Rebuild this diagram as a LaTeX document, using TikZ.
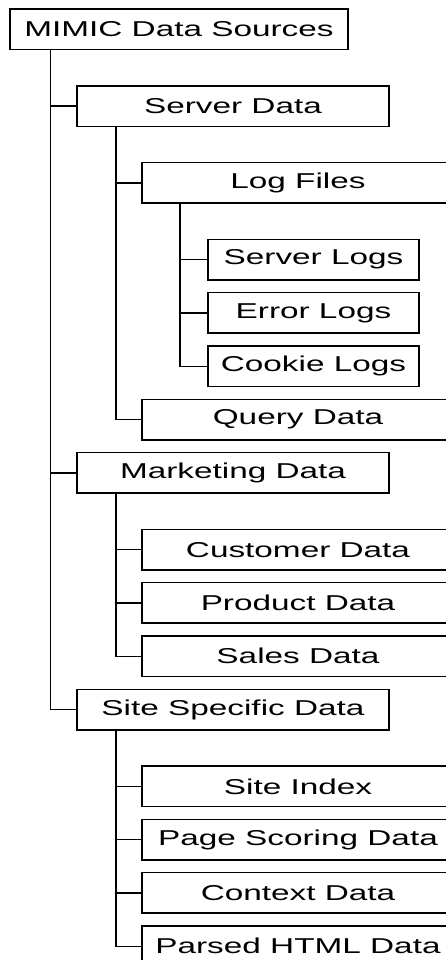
\documentclass[tikz,border=0pt]{standalone}
\usepackage{fontspec}
\setmainfont[FakeStretch=1.55]{Liberation Sans}
\usepackage{tikz}
\usetikzlibrary{positioning,calc}

\begin{document}
\begin{tikzpicture}[
    x=1pt, y=1pt,
    node distance=12.8pt,
    box/.style={rectangle, draw, line width=1.5pt, inner sep=0pt, outer sep=0pt, minimum height=40.5pt, font=\fontsize{21.5pt}{24pt}\selectfont},
    topbox/.style={box, minimum width=338pt},
    groupbox/.style={box, minimum width=312pt},
    leafbox/.style={box, minimum width=211pt},
    link/.style={line width=1.5pt}
]
\clip (0,0) rectangle (446,-960);

% Root
\node[topbox, anchor=north west] (root) at (10,-9) {MIMIC Data Sources};

% Server data branch
\node[groupbox, below=36.3pt of root.south west, anchor=north west, xshift=67pt] (server) {Server Data};
\node[groupbox, below=36.3pt of server.south west, anchor=north west, xshift=65pt] (logfiles) {Log Files};
\node[leafbox, below=36.3pt of logfiles.south west, anchor=north west, xshift=66pt] (srvlogs) {Server Logs};
\node[leafbox, below=of srvlogs] (errlogs) {Error Logs};
\node[leafbox, below=of errlogs] (cookielogs) {Cookie Logs};
\node[groupbox, below=of cookielogs.south west, anchor=north west, xshift=-66pt] (query) {Query Data};

% Marketing data branch
\node[groupbox, below=of query.south west, anchor=north west, xshift=-65pt] (marketing) {Marketing Data};
\node[groupbox, below=36.3pt of marketing.south west, anchor=north west, xshift=65pt] (customer) {Customer Data};
\node[groupbox, below=of customer] (product) {Product Data};
\node[groupbox, below=of product] (sales) {Sales Data};

% Site specific branch
\node[groupbox, below=of sales.south west, anchor=north west, xshift=-65pt] (site) {Site Specific Data};
\node[groupbox, below=36.3pt of site.south west, anchor=north west, xshift=65pt] (siteidx) {Site Index};
\node[groupbox, below=of siteidx] (scoring) {Page Scoring Data};
\node[groupbox, below=of scoring] (context) {Context Data};
\node[groupbox, below=of context] (parsed) {Parsed HTML Data};

% Tree lines
\draw[link] ($(root.south west)+(40.7,0)$) coordinate (t0)
    |- (server.west) (t0) |- (marketing.west) (t0) |- (site.west);
\draw[link] ($(server.south west)+(39,0)$) coordinate (t1)
    |- (logfiles.west) (t1) |- (query.west);
\draw[link] ($(logfiles.south west)+(38,0)$) coordinate (t2)
    |- (srvlogs.west) (t2) |- (errlogs.west) (t2) |- (cookielogs.west);
\draw[link] ($(marketing.south west)+(39,0)$) coordinate (t3)
    |- (customer.west) (t3) |- (product.west) (t3) |- (sales.west);
\draw[link] ($(site.south west)+(39,0)$) coordinate (t4)
    |- (siteidx.west) (t4) |- (scoring.west) (t4) |- (context.west) (t4) |- (parsed.west);

\end{tikzpicture}
\end{document}
